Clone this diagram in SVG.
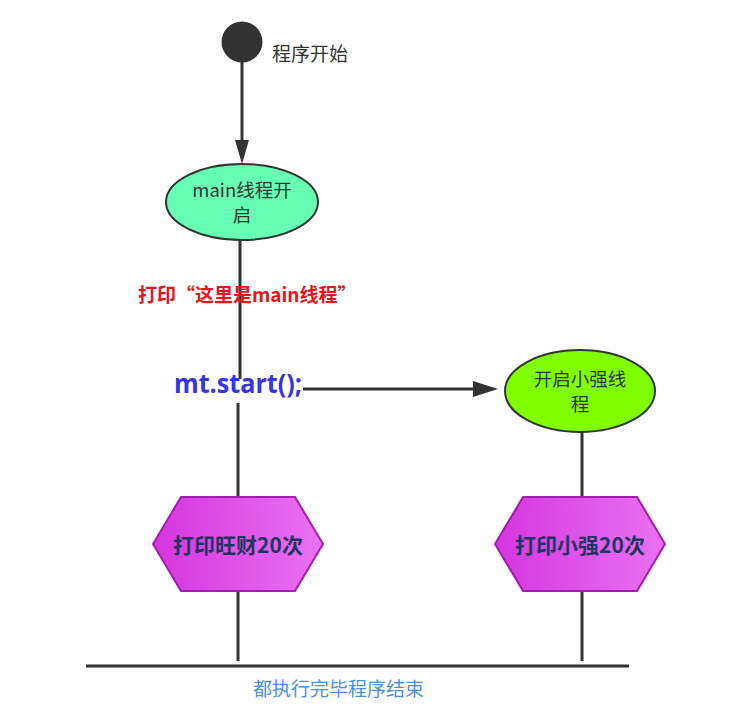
<svg xmlns="http://www.w3.org/2000/svg" width="729" height="705" viewBox="0 0 729 705">
<defs>
<style>
.cn{font-family:"Noto Sans CJK SC","Noto Sans",sans-serif}
.edge{stroke:#333;stroke-width:3;fill:none}
.hex{stroke:#a21caf;stroke-width:2}
.hext{font-size:21px;font-weight:bold;fill:#1c3760;text-anchor:middle}
.nt{font-size:18.5px;fill:#333;text-anchor:middle}
</style>
<linearGradient id="hg" x1="0" y1="0" x2="1" y2="0">
<stop offset="0" stop-color="#d535e0"/>
<stop offset="1" stop-color="#ea72f0"/>
</linearGradient>
</defs>
<rect width="729" height="705" fill="#fff"/>
<g id="connectors">
<line x1="242" y1="62" x2="242" y2="140" class="edge"/>
<path d="M235,140 L249,140 L242,164 z" fill="#333"/>
<line x1="240" y1="240" x2="240" y2="379" class="edge"/>
<line x1="238" y1="403" x2="238" y2="497" class="edge"/>
<line x1="303" y1="389" x2="474" y2="389" class="edge"/>
<path d="M473,381 L498,389 L473,397 z" fill="#333"/>
<line x1="582" y1="432" x2="582" y2="497" class="edge"/>
<line x1="238" y1="591" x2="238" y2="661" class="edge"/>
<line x1="582" y1="591" x2="582" y2="661" class="edge"/>
<line x1="86" y1="666" x2="629" y2="666" class="edge"/>
</g>
<g id="start">
<circle cx="242" cy="42" r="20.5" fill="#333"/>
<text x="272" y="61" class="cn" font-size="19" fill="#333">程序开始</text>
</g>
<g id="main">
<ellipse cx="242" cy="202" rx="76" ry="38" fill="#66ffb3" stroke="#333" stroke-width="2"/>
<text x="242" y="197" class="cn nt">main线程开</text>
<text x="242" y="222" class="cn nt">启</text>
</g>
<g id="print-main">
<text x="138" y="302" class="cn" font-size="19" font-weight="bold" fill="#e8141b">打印“这里是main线程”</text>
</g>
<g id="mt-start">
<text x="174" y="393" font-family="'Open Sans','Liberation Sans',sans-serif" font-size="26" font-weight="bold" fill="#3535e6" textLength="128" lengthAdjust="spacingAndGlyphs">mt.start();</text>
</g>
<g id="xq">
<ellipse cx="580" cy="391" rx="75" ry="41" fill="#80ff00" stroke="#333" stroke-width="2"/>
<text x="580" y="386" class="cn nt">开启小强线</text>
<text x="580" y="411" class="cn nt">程</text>
</g>
<g id="wc20">
<polygon points="153,544 181,497 295,497 323,544 295,591 181,591" fill="url(#hg)" class="hex"/>
<text x="238" y="553" class="cn hext">打印旺财20次</text>
</g>
<g id="xq20">
<polygon points="495,544 523,497 637,497 665,544 637,591 523,591" fill="url(#hg)" class="hex"/>
<text x="580" y="553" class="cn hext">打印小强20次</text>
</g>
<g id="end">
<text x="253" y="696" class="cn" font-size="19" fill="#4a90dc">都执行完毕程序结束</text>
</g>
</svg>
